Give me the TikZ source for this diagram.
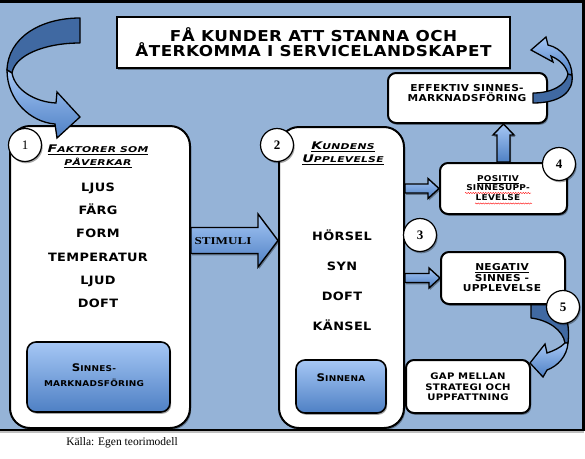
\documentclass[tikz,border=0pt]{standalone}
\usepackage{fontspec}
\newfontfamily\plate{DejaVu Sans}[FakeStretch=1.12,LetterSpace=3]
\newfontfamily\wideplate{DejaVu Sans}[FakeStretch=1.35,LetterSpace=3]
\newfontfamily\numfont{Liberation Serif}
\newfontfamily\stimfont{Liberation Serif}[FakeStretch=1.25]
\usetikzlibrary{shapes, positioning, calc, shadows, decorations.pathmorphing}

\definecolor{panelBlue}{RGB}{149,179,215}
\definecolor{lightBlue}{RGB}{166,199,245}
\definecolor{midBlue}{RGB}{78,128,196}
\definecolor{darkBlue}{RGB}{64,105,162}

\newcommand{\smcap}[2]{{\fontsize{10.5}{12}\selectfont #1}{\fontsize{8}{10}\selectfont\MakeUppercase{#2}}}
\newcommand{\harrow}[6][]{%
  \path[blockarrow,#1] let \p1=#2, \p2=#3 in
    (\x1,\y1+#4) -- (\x2-#6,\y2+#4) -- (\x2-#6,\y2+#5) -- (\p2)
    -- (\x2-#6,\y2-#5) -- (\x2-#6,\y2-#4) -- (\x1,\y1-#4) -- cycle;}
\newcommand{\varrow}[6][]{%
  \path[blockarrow,#1] let \p1=#2, \p2=#3 in
    (\x1-#4,\y1) -- (\x2-#4,\y2-#6) -- (\x2-#5,\y2-#6) -- (\p2)
    -- (\x2+#5,\y2-#6) -- (\x2+#4,\y2-#6) -- (\x1+#4,\y1) -- cycle;}

\tikzstyle{softshadow}=[drop shadow={shadow xshift=1.2pt, shadow yshift=-1.8pt, opacity=0.35, fill=black}]
\tikzstyle{panel}=[draw, line width=2.5pt, fill=panelBlue, drop shadow={shadow xshift=0pt, shadow yshift=-3pt, opacity=0.25, fill=black}]
\tikzstyle{titlebox}=[draw, line width=2.5pt, fill=white, inner sep=0pt, softshadow]
\tikzstyle{bigbox}=[draw, line width=2pt, fill=white, rounded corners=20pt, inner sep=0pt, softshadow]
\tikzstyle{smallbox}=[draw, line width=2pt, fill=white, rounded corners=8pt, inner sep=0pt, softshadow]
\tikzstyle{bluebox}=[draw, line width=1.6pt, rounded corners=9pt, inner sep=0pt, top color=lightBlue, bottom color=midBlue, softshadow]
\tikzstyle{blockarrow}=[draw, line width=1.4pt, line join=miter, top color=lightBlue, bottom color=midBlue, softshadow]
\tikzstyle{ribbonBack}=[draw, line width=1.3pt, line join=round, fill=darkBlue]
\tikzstyle{ribbonFront}=[draw, line width=1.3pt, line join=miter, top color=lightBlue, bottom color=midBlue]
\tikzstyle{number}=[circle, draw, line width=1.2pt, fill=white, minimum size=33pt, inner sep=0pt, font=\numfont\bfseries\fontsize{13}{13}\selectfont, softshadow]
\tikzstyle{item}=[font=\plate\bfseries\fontsize{11.5}{13}\selectfont, text height=8.4pt, text depth=0pt]
\tikzstyle{heading}=[font=\wideplate\bfseries\itshape\fontsize{8}{13}\selectfont, align=center]
\tikzstyle{boxtext}=[font=\plate\bfseries\fontsize{9.5}{10.5}\selectfont, align=center]
\tikzstyle{spellmark}=[draw=red, line width=0.4pt, decorate, decoration={snake, amplitude=0.6pt, segment length=2.5pt}]

\begin{document}
\begin{tikzpicture}[x=1pt, y=-1pt]
  \useasboundingbox (0,0) rectangle (585,458);
  \path[panel] (-5,1.5) rectangle (583.5,430);

  % negative experience leads to the gap
  \draw[ribbonBack] (531,300) -- (531,318) .. controls (548,320) and (563,330) .. (565,343)
    -- (568,343) .. controls (570,325) and (566,308) .. (555,300) -- cycle;
  \draw[ribbonFront] (565,343) .. controls (560,348) and (553,351) .. (547,353) -- (545,344)
    -- (530,363) -- (543,377) -- (547,370) .. controls (558,366) and (567,356) .. (568,343) -- cycle;

  \node[titlebox, minimum width=393pt, minimum height=51pt] (title) at (313.5,42.5) {};
  \node[bigbox, minimum width=180pt, minimum height=302pt] (factors) at (100,277) {};
  \node[bigbox, minimum width=125pt, minimum height=301pt] (experience) at (341.5,277.5) {};
  \node[bluebox, minimum width=143pt, minimum height=70pt] (sensoryMarketing) at (98.5,377) {};
  \node[bluebox, minimum width=90pt, minimum height=53pt] (senses) at (341,386.5) {};
  \node[smallbox, minimum width=159pt, minimum height=50pt] (effective) at (467.5,98) {};
  \node[smallbox, minimum width=127pt, minimum height=51pt] (positive) at (503.5,188.5) {};
  \node[smallbox, minimum width=124pt, minimum height=52pt] (negative) at (503,278) {};
  \node[smallbox, minimum width=124pt, minimum height=53pt] (gap) at (468,386.5) {};

  \coordinate (stimIn) at ($(factors.east)+(0,-36.5)$);
  \harrow{(stimIn)}{(stimIn -| experience.west)}{13pt}{26.5pt}{20pt}
  \harrow{(positive.west -| experience.east)}{(positive.west)}{4.5pt}{10pt}{11pt}
  \harrow{(negative.west -| experience.east)}{(negative.west)}{4.5pt}{10pt}{11pt}
  \varrow{(positive.north)}{(positive.north |- effective.south)}{6.5pt}{10.5pt}{11pt}

  \node[font=\plate\bfseries\fontsize{15}{15}\selectfont, align=center] (titleText) at (313.5,42.5)
    {FÅ KUNDER ATT STANNA OCH\\ÅTERKOMMA I SERVICELANDSKAPET};
  \node[heading] (factorsHead) at (98,156) {\underline{\smcap{F}{aktorer som}}\\\underline{\smcap{}{påverkar}}};
  \foreach \w [count=\i] in {LJUS, FÄRG, FORM, TEMPERATUR, LJUD, DOFT}
    \node[item] (factor\i) at (98,164+23.2*\i) {\w};
  \node[heading] (experienceHead) at (343,153) {\underline{\smcap{K}{undens}}\\\underline{\smcap{U}{pplevelse}}};
  \foreach \w [count=\i] in {HÖRSEL, SYN, DOFT, KÄNSEL}
    \node[item] (sense\i) at (342,207+29.7*\i) {\w};
  \node[font=\plate\bfseries, align=center] (sensoryText) at (94,375.5)
    {\smcap{S}{innes-}\\[3pt]\smcap{}{marknadsföring}};
  \node[font=\plate\bfseries] (sensesText) at (341,378) {\smcap{S}{innena}};
  \node[font=\stimfont\bfseries\fontsize{10.5}{12}\selectfont] (stimuli) at (223,241) {STIMULI};
  \node[boxtext, font=\plate\bfseries\fontsize{9.5}{10}\selectfont] (effectiveText) at (467,93)
    {EFFEKTIV SINNES-\\MARKNADSFÖRING};
  \node[boxtext, font=\plate\bfseries\fontsize{8}{9.5}\selectfont] (positiveText) at (498,188)
    {\underline{POSITIV}\\SINNESUPP-\\LEVELSE};
  \node[boxtext] (negativeText) at (502,278) {\underline{NEGATIV}\\SINNES -\\UPPLEVELSE};
  \node[boxtext, font=\plate\bfseries\fontsize{9}{10.5}\selectfont] (gapText) at (468,387)
    {GAP MELLAN\\STRATEGI OCH\\UPPFATTNING};
  \draw[spellmark] ($(positiveText)+(-33,5)$) -- ++(66,0);
  \draw[spellmark] ($(positiveText)+(-23,15.5)$) -- ++(57,0);

  % curved arrows
  \draw[ribbonBack] (80,18) .. controls (40,18) and (8,38) .. (7,70) -- (12,73)
    .. controls (15,55) and (45,43) .. (80,43) -- cycle;
  \draw[ribbonFront] (7,70) .. controls (7,100) and (30,122) .. (55,124) -- (57,138) -- (80,117)
    -- (57,92) -- (56,103) .. controls (35,102) and (15,90) .. (12,73) -- cycle;
  \draw[ribbonBack] (533,93) .. controls (552,93) and (566,85) .. (568,74) -- (572,75)
    .. controls (574,92) and (560,103) .. (533,103) -- cycle;
  \draw[ribbonFront] (572,75) .. controls (572,62) and (562,48) .. (548,45) -- (546,37) -- (531,50)
    -- (553,62) -- (551,56) .. controls (560,60) and (566,66) .. (568,74) -- cycle;

  \node[number, font=\numfont\fontsize{13}{13}\selectfont] (n1) at (25,145) {1};
  \node[number] (n2) at (277,145) {2};
  \node[number] (n3) at (420,235) {3};
  \node[number] (n4) at (559,164) {4};
  \node[number] (n5) at (563,307) {5};

  \node[font=\numfont\fontsize{11.5}{13}\selectfont] (source) at (122,443) {Källa: Egen teorimodell};
\end{tikzpicture}
\end{document}
